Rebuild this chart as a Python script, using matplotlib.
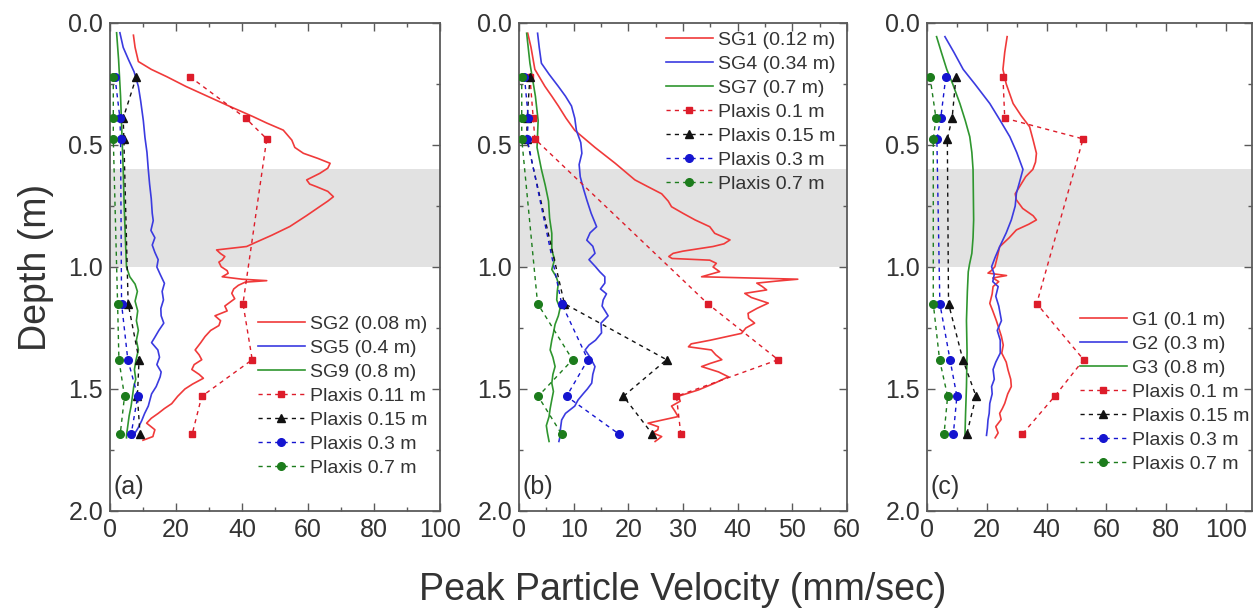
import matplotlib
matplotlib.use("Agg")
import matplotlib.pyplot as plt
import numpy as np
from matplotlib.ticker import MultipleLocator, FormatStrFormatter

plt.rcParams['font.family'] = ['Liberation Sans', 'DejaVu Sans']

# ---------------- data ----------------
plaxis_depth = [0.22, 0.39, 0.475, 1.15, 1.38, 1.53, 1.685]

# panel (a)
a_sg2_d = [0.05, 0.10, 0.158, 0.19, 0.22, 0.26, 0.30, 0.34, 0.384, 0.41, 0.439, 0.48, 0.51, 0.534,
           0.555, 0.575, 0.595, 0.616, 0.643, 0.66, 0.671, 0.69, 0.712, 0.73, 0.752, 0.79, 0.834,
           0.87, 0.90, 0.916, 0.93, 0.945, 0.957, 0.971, 0.98, 0.999, 1.015, 1.026, 1.04, 1.05,
           1.056, 1.062, 1.075, 1.09, 1.108, 1.13, 1.16, 1.18, 1.20, 1.22, 1.24, 1.26, 1.285,
           1.31, 1.34, 1.36, 1.38, 1.40, 1.42, 1.44, 1.456, 1.48, 1.50, 1.53, 1.56, 1.58, 1.60,
           1.62, 1.64, 1.655, 1.667, 1.685, 1.695, 1.705, 1.71]
a_sg2_v = [7.1, 7.6, 8.6, 12.5, 17.2, 23.0, 29.5, 36.0, 43.4, 47.5, 52.5, 55.1, 56.0, 58.6,
           63.0, 66.7, 66.0, 63.6, 59.6, 60.5, 62.6, 66.0, 67.7, 66.0, 63.6, 59.5, 54.5,
           49.0, 44.0, 41.4, 32.3, 33.5, 34.8, 34.0, 33.0, 33.7, 35.5, 35.8, 34.0, 40.0,
           47.5, 41.0, 38.9, 37.5, 36.9, 37.8, 34.8, 35.5, 31.8, 33.5, 33.0, 30.5, 28.8,
           27.5, 25.8, 27.0, 27.8, 25.5, 24.8, 27.0, 28.3, 25.0, 22.7, 20.5, 18.7, 16.5, 14.6,
           12.5, 11.1, 12.5, 13.6, 13.2, 13.0, 11.0, 10.0]
a_sg5_d = [0.04, 0.10, 0.15, 0.20, 0.26, 0.32, 0.40, 0.47, 0.53, 0.60, 0.66, 0.72, 0.78, 0.81,
           0.85, 0.88, 0.91, 0.94, 0.97, 1.00, 1.03, 1.067, 1.10, 1.135, 1.17, 1.20, 1.23, 1.26,
           1.29, 1.31, 1.34, 1.37, 1.40, 1.43, 1.45, 1.49, 1.52, 1.55, 1.57, 1.60, 1.63, 1.66,
           1.68, 1.70]
a_sg5_v = [3.0, 4.0, 5.6, 7.3, 8.6, 9.3, 10.1, 10.6, 11.2, 11.6, 12.0, 12.5, 12.8, 13.1,
           12.4, 13.6, 12.8, 13.6, 14.6, 14.2, 15.2, 16.5, 15.8, 16.2, 15.4, 15.5, 16.3, 14.8,
           13.5, 12.6, 14.5, 15.0, 14.2, 15.5, 15.2, 14.0, 12.6, 12.0, 11.6, 10.5, 9.6, 8.5,
           7.6, 7.1]
a_sg9_d = [0.04, 0.15, 0.30, 0.45, 0.60, 0.75, 0.90, 1.00, 1.04, 1.07, 1.10, 1.14, 1.18, 1.22,
           1.26, 1.30, 1.34, 1.38, 1.42, 1.46, 1.49, 1.53, 1.57, 1.61, 1.65, 1.69, 1.70]
a_sg9_v = [2.0, 2.6, 3.2, 3.6, 4.0, 4.3, 4.7, 5.0, 6.0, 7.6, 8.3, 7.6, 8.4, 8.0,
           8.6, 8.0, 8.6, 7.9, 7.4, 7.8, 7.2, 6.8, 6.4, 5.8, 5.4, 5.0, 5.0]
a_px_011 = [24.2, 41.1, 47.5, 40.3, 43.1, 27.8, 24.9]
a_px_015 = [8.0, 4.0, 4.2, 5.5, 8.8, 8.3, 9.1]
a_px_03 = [1.5, 3.0, 3.2, 3.5, 5.4, 8.4, 6.4]
a_px_07 = [1.0, 1.0, 1.0, 2.3, 2.7, 4.4, 3.1]

# panel (b)
b_sg1_d = [0.042, 0.10, 0.19, 0.26, 0.30, 0.34, 0.39, 0.44, 0.51, 0.575, 0.643, 0.67, 0.70, 0.73,
           0.753, 0.78, 0.807, 0.835, 0.862, 0.889, 0.905, 0.916, 0.935, 0.944, 0.957, 0.965,
           0.972, 0.985, 1.00, 1.019, 1.04, 1.05, 1.058, 1.066, 1.08, 1.094, 1.108, 1.125, 1.148,
           1.17, 1.19, 1.21, 1.23, 1.25, 1.272, 1.30, 1.315, 1.327, 1.34, 1.36, 1.38, 1.395,
           1.408, 1.43, 1.45, 1.476, 1.504, 1.53, 1.55, 1.57, 1.59, 1.613, 1.64, 1.655, 1.667,
           1.68, 1.695, 1.715]
b_sg1_v = [1.6, 2.2, 2.9, 4.75, 6.0, 7.2, 8.6, 10.2, 13.9, 17.6, 21.2, 23.5, 26.1, 27.3,
           27.9, 30.0, 32.2, 34.9, 35.8, 38.6, 37.5, 35.5, 30.0, 28.2, 27.4, 28.0,
           34.9, 36.1, 35.5, 36.7, 33.4, 51.0, 47.0, 43.5, 44.5, 45.3, 41.3, 42.5, 45.6,
           43.5, 41.9, 42.0, 43.1, 41.5, 40.7, 35.0, 31.5, 31.0, 35.2, 36.0, 37.1, 35.0,
           33.4, 36.5, 38.3, 35.8, 32.8, 29.1, 29.5, 27.9, 28.5, 29.1, 23.6, 25.5, 25.4,
           24.5, 26.1, 24.9]
b_sg4_d = [0.042, 0.10, 0.165, 0.21, 0.26, 0.30, 0.34, 0.39, 0.44, 0.49, 0.534, 0.58, 0.63, 0.68,
           0.725, 0.78, 0.835, 0.86, 0.89, 0.915, 0.944, 0.97, 0.999, 1.02, 1.04, 1.066, 1.09,
           1.11, 1.135, 1.16, 1.20, 1.23, 1.27, 1.30, 1.32, 1.34, 1.37, 1.408, 1.44, 1.476, 1.50,
           1.518, 1.545, 1.57, 1.60, 1.627, 1.66, 1.695, 1.715]
b_sg4_v = [3.4, 3.7, 4.1, 5.5, 7.2, 8.5, 9.6, 10.2, 10.5, 11.3, 11.5, 11.0, 11.2, 11.8,
           12.4, 13.2, 14.2, 13.0, 12.4, 13.5, 13.9, 12.8, 14.0, 14.8, 15.7, 15.7, 14.9,
           16.0, 15.4, 15.2, 16.3, 15.0, 15.1, 14.0, 12.8, 12.1, 13.0, 13.9, 13.5, 13.3, 12.5,
           11.8, 10.8, 10.2, 8.5, 7.8, 7.6, 7.5, 7.3]
b_sg7_d = [0.042, 0.165, 0.30, 0.40, 0.51, 0.60, 0.665, 0.73, 0.80, 0.862, 0.93, 0.97, 1.01, 1.04,
           1.066, 1.10, 1.135, 1.17, 1.20, 1.235, 1.27, 1.30, 1.34, 1.37, 1.408, 1.44, 1.476,
           1.51, 1.544, 1.58, 1.613, 1.65, 1.68, 1.715]
b_sg7_v = [1.4, 2.0, 3.0, 3.5, 3.3, 4.1, 4.8, 5.4, 5.6, 6.0, 6.0, 6.5, 6.0, 6.8,
           7.2, 7.0, 6.9, 7.5, 7.2, 6.6, 6.3, 6.0, 5.7, 6.2, 6.6, 6.2, 6.0,
           6.3, 6.0, 5.7, 5.5, 5.0, 5.2, 5.5]
b_px_01 = [2.0, 2.6, 2.9, 34.5, 47.4, 28.8, 29.6]
b_px_015 = [2.0, 1.5, 1.4, 8.3, 27.0, 19.1, 24.4]
b_px_03 = [1.0, 1.7, 1.5, 7.8, 12.6, 8.7, 18.3]
b_px_07 = [0.5, 0.5, 0.5, 3.4, 9.8, 3.5, 7.8]

# panel (c)
c_g1_d = [0.056, 0.12, 0.19, 0.25, 0.33, 0.38, 0.425, 0.48, 0.534, 0.57, 0.60, 0.63, 0.67, 0.70,
          0.725, 0.76, 0.79, 0.807, 0.825, 0.848, 0.88, 0.917, 0.96, 0.999, 1.015, 1.025, 1.035,
          1.045, 1.06, 1.08, 1.11, 1.149, 1.18, 1.22, 1.25, 1.285, 1.32, 1.353, 1.39, 1.422,
          1.46, 1.49, 1.52, 1.559, 1.58, 1.60, 1.625, 1.654, 1.68, 1.70]
c_g1_v = [26.8, 26.0, 25.4, 26.5, 28.8, 31.5, 34.3, 35.5, 36.6, 36.3, 35.4, 33.0, 31.0, 29.5,
          29.9, 32.0, 35.5, 36.6, 34.0, 29.9, 27.5, 24.3, 23.5, 22.7, 21.5, 20.4, 26.6,
          22.0, 24.0, 22.1, 21.8, 21.0, 22.0, 23.2, 24.0, 24.9, 25.5, 25.0, 26.5, 27.1,
          28.0, 28.2, 27.0, 26.0, 25.2, 24.3, 24.8, 23.0, 23.8, 22.8]
c_g2_d = [0.056, 0.12, 0.19, 0.25, 0.33, 0.40, 0.466, 0.53, 0.60, 0.65, 0.698, 0.75, 0.807, 0.86,
          0.917, 0.96, 0.999, 1.03, 1.06, 1.08, 1.12, 1.16, 1.22, 1.26, 1.30, 1.353, 1.39, 1.42,
          1.46, 1.49, 1.52, 1.559, 1.60, 1.627, 1.66, 1.69]
c_g2_v = [6.0, 9.0, 12.1, 16.0, 21.0, 24.5, 27.7, 30.0, 32.1, 31.0, 29.9, 29.5, 28.2, 26.5,
          24.3, 22.8, 21.6, 22.5, 22.0, 23.8, 23.0, 24.0, 24.9, 23.5, 24.5, 24.5, 23.0, 22.1,
          22.5, 21.6, 21.8, 21.0, 20.8, 20.4, 20.2, 19.9]
c_g3_d = [0.056, 0.12, 0.19, 0.25, 0.33, 0.40, 0.466, 0.53, 0.60, 0.70, 0.807, 0.88, 0.944, 0.99,
          1.02, 1.10, 1.22, 1.35, 1.49, 1.60, 1.69]
c_g3_v = [3.2, 4.8, 6.6, 8.6, 11.0, 12.8, 14.3, 15.0, 15.4, 15.5, 15.6, 15.4, 15.0, 14.2,
          13.8, 13.5, 13.2, 13.4, 13.2, 12.9, 12.7]
c_px_01 = [25.4, 26.0, 52.2, 36.7, 52.4, 42.7, 31.9]
c_px_015 = [9.7, 8.4, 6.8, 7.2, 12.0, 16.4, 13.3]
c_px_03 = [6.3, 4.6, 3.3, 4.3, 7.7, 10.0, 8.8]
c_px_07 = [1.0, 3.0, 2.1, 2.1, 4.2, 6.9, 5.7]

# ---------------- styling ----------------
W, H = 1254, 609
fig = plt.figure(figsize=(W / 100, H / 100), dpi=100)

RED_L, BLUE_L, GREEN_L = '#f03a3a', '#3b3be0', '#2f962f'
RED_M, BLACK_M, BLUE_M, GREEN_M = '#dd1c2a', '#111111', '#1515d0', '#1c7c1c'
DASH = (0, (3, 3))
SPINE = '#5a5a5a'
TXT = '#333333'


def make_axes(left_px, right_px, top_px=23, bottom_px=511):
    return fig.add_axes([left_px / W, 1 - bottom_px / H,
                         (right_px - left_px) / W, (bottom_px - top_px) / H])


def style(ax, xmax, major, minor, label):
    ax.set_xlim(0, xmax)
    ax.set_ylim(2.0, 0.0)
    ax.axhspan(0.6, 1.0, color='#e2e2e2', zorder=0, lw=0)
    ax.xaxis.set_major_locator(MultipleLocator(major))
    ax.xaxis.set_minor_locator(MultipleLocator(minor))
    ax.yaxis.set_major_locator(MultipleLocator(0.5))
    ax.yaxis.set_minor_locator(MultipleLocator(0.25))
    ax.yaxis.set_major_formatter(FormatStrFormatter('%.1f'))
    ax.tick_params(which='both', direction='in', top=True, right=True, colors=SPINE,
                   labelcolor=TXT, labelsize=18, width=1.0)
    ax.tick_params(which='major', length=6, pad=5)
    ax.tick_params(which='minor', length=3)
    for s in ax.spines.values():
        s.set_color(SPINE)
        s.set_linewidth(1.3)
    ax.text(0.01, 0.025, label, transform=ax.transAxes, fontsize=18, color=TXT,
            ha='left', va='bottom')


def plot_panel(ax, lines, plaxis):
    for d, v, c, lab in lines:
        ax.plot(v, d, color=c, lw=1.2, label=lab, zorder=3)
    for vals, c, m, ms, lab in plaxis:
        ax.plot(vals, plaxis_depth, linestyle=DASH, color=c, lw=1.0, marker=m, ms=ms,
                mfc=c, mec=c, label=lab, zorder=4)


def legend(ax, x_px, y_px):
    ax.legend(loc='upper left', bbox_to_anchor=(x_px / W, 1 - y_px / H),
              bbox_transform=fig.transFigure, frameon=False, fontsize=14,
              handlelength=2.4, handletextpad=0.3, labelspacing=0.33, borderpad=0,
              borderaxespad=0, numpoints=1, labelcolor=TXT)


# panel (a)
ax_a = make_axes(110, 440)
style(ax_a, 100, 20, 10, '(a)')
plot_panel(ax_a,
           [(a_sg2_d, a_sg2_v, RED_L, 'SG2 (0.08 m)'),
            (a_sg5_d, a_sg5_v, BLUE_L, 'SG5 (0.4 m)'),
            (a_sg9_d, a_sg9_v, GREEN_L, 'SG9 (0.8 m)')],
           [(a_px_011, RED_M, 's', 4.5, 'Plaxis 0.11 m'),
            (a_px_015, BLACK_M, '^', 5.5, 'Plaxis 0.15 m'),
            (a_px_03, BLUE_M, 'o', 5.5, 'Plaxis 0.3 m'),
            (a_px_07, GREEN_M, 'o', 5.5, 'Plaxis 0.7 m')])
legend(ax_a, 258, 315)
ax_a.set_ylabel('Depth (m)', fontsize=27, color=TXT, labelpad=10)

# panel (b)
ax_b = make_axes(519, 847)
style(ax_b, 60, 10, 5, '(b)')
plot_panel(ax_b,
           [(b_sg1_d, b_sg1_v, RED_L, 'SG1 (0.12 m)'),
            (b_sg4_d, b_sg4_v, BLUE_L, 'SG4 (0.34 m)'),
            (b_sg7_d, b_sg7_v, GREEN_L, 'SG7 (0.7 m)')],
           [(b_px_01, RED_M, 's', 4.5, 'Plaxis 0.1 m'),
            (b_px_015, BLACK_M, '^', 5.5, 'Plaxis 0.15 m'),
            (b_px_03, BLUE_M, 'o', 5.5, 'Plaxis 0.3 m'),
            (b_px_07, GREEN_M, 'o', 5.5, 'Plaxis 0.7 m')])
legend(ax_b, 666, 31)
ax_b.set_xlabel('Peak Particle Velocity (mm/sec)', fontsize=27, color=TXT, labelpad=22)

# panel (c)
ax_c = make_axes(927, 1252)
style(ax_c, 108.7, 20, 10, '(c)')
plot_panel(ax_c,
           [(c_g1_d, c_g1_v, RED_L, 'G1 (0.1 m)'),
            (c_g2_d, c_g2_v, BLUE_L, 'G2 (0.3 m)'),
            (c_g3_d, c_g3_v, GREEN_L, 'G3 (0.8 m)')],
           [(c_px_01, RED_M, 's', 4.5, 'Plaxis 0.1 m'),
            (c_px_015, BLACK_M, '^', 5.5, 'Plaxis 0.15 m'),
            (c_px_03, BLUE_M, 'o', 5.5, 'Plaxis 0.3 m'),
            (c_px_07, GREEN_M, 'o', 5.5, 'Plaxis 0.7 m')])
legend(ax_c, 1080, 311)

fig.savefig('out.png', dpi=100)
